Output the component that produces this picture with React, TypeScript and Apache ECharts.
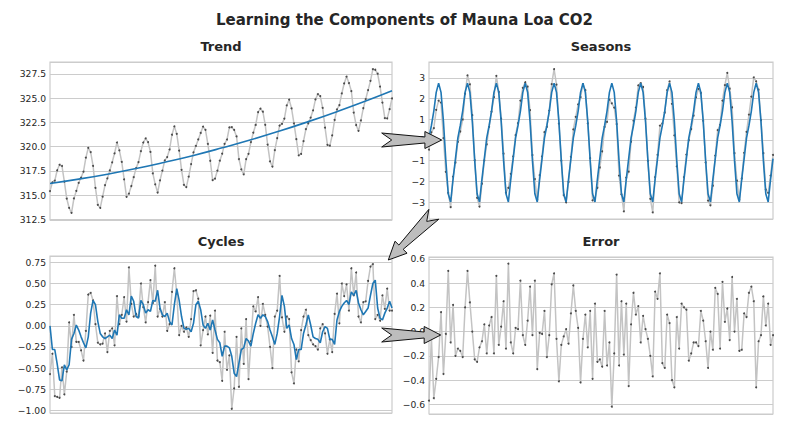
import React, { useEffect, useRef } from "react";
import * as echarts from "echarts";

// Monthly CO2 (ppm), Mauna Loa, Jan 1959 - Dec 1970
const co2Observed = [
  315.42, 316.31, 316.5, 317.56, 318.13, 318.0, 316.39, 314.65, 313.68, 313.18, 314.66, 315.43,
  316.27, 316.81, 317.42, 318.87, 319.87, 319.43, 318.01, 315.74, 314.0, 313.68, 314.84, 316.03,
  316.73, 317.54, 318.38, 319.31, 320.42, 319.61, 318.42, 316.63, 314.83, 315.16, 315.94, 316.85,
  317.78, 318.4, 319.53, 320.42, 320.85, 320.45, 319.45, 317.25, 316.11, 315.27, 316.53, 317.53,
  318.58, 318.92, 319.7, 321.22, 322.08, 321.31, 319.58, 317.61, 316.05, 315.83, 316.91, 318.2,
  319.41, 320.07, 320.74, 321.4, 322.06, 321.73, 320.27, 318.54, 316.54, 316.71, 317.53, 318.55,
  319.27, 320.28, 320.73, 321.97, 322.0, 321.71, 321.05, 318.71, 317.66, 317.14, 318.7, 319.25,
  320.46, 321.43, 322.23, 323.54, 323.91, 323.59, 322.24, 320.2, 318.48, 317.94, 319.63, 320.87,
  322.17, 322.34, 322.88, 324.25, 324.83, 323.93, 322.38, 320.76, 319.1, 319.24, 320.56, 321.8,
  322.4, 322.99, 323.73, 324.86, 325.4, 325.2, 323.98, 321.95, 320.18, 320.09, 321.16, 322.74,
  323.83, 324.26, 325.47, 326.5, 327.21, 326.54, 325.72, 323.5, 322.22, 321.62, 322.69, 323.95,
  324.89, 325.82, 326.77, 327.97, 327.91, 327.5, 326.18, 324.53, 322.93, 322.9, 323.85, 324.96,
];

// Fitted trend (read at a few month indices)
const trendMonths = [0, 12, 24, 36, 48, 60, 72, 84, 96, 108, 120, 132, 143];
const trendFit = [316.2, 316.65, 317.16, 317.74, 318.39, 319.09, 319.87, 320.7, 321.6, 322.57, 323.6, 324.69, 325.75];

// Detrended data (gray, Seasons panel)
const detrended = [
  -0.47, 0.37, 0.57, 1.46, 1.9, 1.81, 0.09, -1.54, -2.56, -3.25, -1.77, -1.09,
  -0.09, 0.41, 0.99, 2.24, 3.12, 2.69, 1.2, -0.98, -2.8, -3.22, -2.11, -0.99,
  -0.21, 0.64, 1.37, 2.07, 3.1, 2.32, 1.03, -0.66, -2.55, -2.31, -1.64, -0.79,
  0.24, 0.81, 1.9, 2.52, 2.79, 2.58, 1.44, -0.73, -1.89, -2.89, -1.7, -0.79,
  0.38, 0.64, 1.42, 2.7, 3.43, 2.68, 0.79, -1.0, -2.67, -3.02, -2.03, -0.82,
  0.51, 1.12, 1.72, 2.07, 2.7, 2.41, 0.8, -0.88, -2.92, -2.82, -2.31, -1.33,
  -0.55, 0.63, 0.88, 1.95, 1.77, 1.56, 0.77, -1.72, -2.63, -3.45, -1.82, -1.53,
  -0.08, 0.93, 1.57, 2.64, 2.75, 2.56, 1.03, -1.01, -2.85, -3.5, -1.79, -0.72,
  0.69, 0.8, 1.33, 2.41, 2.83, 1.75, 0.22, -1.28, -3.02, -3.05, -1.79, -0.71,
  -0.01, 0.53, 1.18, 2.06, 2.47, 2.27, 0.92, -1.09, -2.93, -3.16, -2.21, -0.76,
  0.48, 0.73, 1.9, 2.65, 3.24, 2.48, 1.58, -0.64, -1.97, -2.89, -1.86, -0.62,
  0.39, 1.23, 2.1, 3.03, 2.83, 2.43, 0.96, -0.64, -2.4, -2.56, -1.72, -0.72,
];

// Seasonal fit (blue, Seasons panel)
const seasonFit = [
  0.1, 0.7, 1.4, 2.3, 2.75, 2.3, 0.9, -1.0, -2.6, -3.0, -1.9, -0.9,
  0.1, 0.7, 1.4, 2.3, 2.75, 2.3, 0.9, -1.0, -2.6, -3.0, -1.9, -0.9,
  0.1, 0.7, 1.4, 2.3, 2.75, 2.3, 0.9, -1.0, -2.6, -3.0, -1.9, -0.9,
  0.1, 0.7, 1.4, 2.3, 2.75, 2.3, 0.9, -1.0, -2.6, -3.0, -1.9, -0.9,
  0.1, 0.7, 1.4, 2.3, 2.75, 2.3, 0.9, -1.0, -2.6, -3.0, -1.9, -0.9,
  0.1, 0.7, 1.4, 2.3, 2.75, 2.3, 0.9, -1.0, -2.6, -3.0, -1.9, -0.9,
  0.1, 0.7, 1.4, 2.3, 2.75, 2.3, 0.9, -1.0, -2.6, -3.0, -1.9, -0.9,
  0.1, 0.7, 1.4, 2.3, 2.75, 2.3, 0.9, -1.0, -2.6, -3.0, -1.9, -0.9,
  0.1, 0.7, 1.4, 2.3, 2.75, 2.3, 0.9, -1.0, -2.6, -3.0, -1.9, -0.9,
  0.1, 0.7, 1.4, 2.3, 2.75, 2.3, 0.9, -1.0, -2.6, -3.0, -1.9, -0.9,
  0.1, 0.7, 1.4, 2.3, 2.75, 2.3, 0.9, -1.0, -2.6, -3.0, -1.9, -0.9,
  0.1, 0.7, 1.4, 2.3, 2.75, 2.3, 0.9, -1.0, -2.6, -3.0, -1.9, -0.9,
];

// Deseasonalised residual (gray, Cycles panel)
const cycleData = [
  -0.57, -0.33, -0.83, -0.84, -0.85, -0.49, -0.81, -0.54, 0.04, -0.25, 0.13, -0.19,
  -0.19, -0.29, -0.41, -0.06, 0.37, 0.39, 0.3, 0.02, -0.2, -0.22, -0.21, -0.09,
  -0.31, -0.06, -0.03, -0.23, 0.35, 0.02, 0.13, 0.34, 0.05, 0.69, 0.26, 0.11,
  0.14, 0.11, 0.5, 0.22, 0.04, 0.28, 0.54, 0.27, 0.71, 0.11, 0.2, 0.11,
  0.28, -0.06, 0.02, 0.4, 0.68, 0.38, -0.11, 0.0, -0.07, -0.02, -0.13, 0.08,
  0.41, 0.42, 0.32, -0.23, -0.05, 0.11, -0.1, 0.12, -0.32, 0.18, -0.41, -0.43,
  -0.65, -0.07, -0.52, -0.35, -0.98, -0.74, -0.13, -0.72, -0.03, -0.45, 0.08, -0.63,
  -0.18, 0.23, 0.17, 0.34, 0.0, 0.26, 0.13, -0.01, -0.25, -0.5, 0.11, 0.18,
  0.59, 0.1, -0.07, 0.11, 0.08, -0.55, -0.68, -0.28, -0.42, -0.05, 0.11, 0.19,
  -0.11, -0.17, -0.22, -0.24, -0.28, -0.03, 0.02, -0.09, -0.33, -0.16, -0.31, 0.14,
  0.38, 0.03, 0.5, 0.35, 0.49, 0.18, 0.68, 0.36, 0.63, 0.11, 0.04, 0.28,
  0.29, 0.53, 0.7, 0.73, 0.08, 0.13, 0.06, 0.36, 0.2, 0.44, 0.18, 0.18,
];

// Cycle fit (blue, Cycles panel)
const cycleFit = [
  0.0, -0.28, -0.28, -0.45, -0.64, -0.65, -0.46, -0.52, -0.46, -0.16, -0.09, 0.01,
  -0.05, -0.13, -0.2, -0.26, -0.13, 0.15, 0.3, 0.25, 0.05, -0.09, -0.13, -0.15,
  -0.13, -0.11, -0.15, -0.05, -0.11, 0.13, 0.09, 0.09, 0.19, 0.13, 0.35, 0.29,
  0.11, 0.09, 0.3, 0.25, 0.15, 0.19, 0.17, 0.3, 0.29, 0.42, 0.21, 0.13,
  0.11, 0.15, 0.05, 0.01, 0.25, 0.44, 0.3, 0.11, -0.03, -0.04, -0.03, -0.07,
  0.03, 0.25, 0.29, 0.19, 0.01, -0.03, 0.03, -0.05, 0.07, -0.05, -0.16, -0.2,
  -0.36, -0.24, -0.24, -0.26, -0.36, -0.56, -0.6, -0.44, -0.28, -0.26, -0.15, -0.18,
  -0.24, -0.09, 0.03, 0.13, 0.09, 0.13, 0.11, 0.05, -0.05, -0.13, -0.22, -0.09,
  0.11, 0.36, 0.23, -0.03, 0.01, -0.15, -0.22, -0.4, -0.28, -0.28, -0.09, 0.01,
  0.13, 0.01, -0.13, -0.15, -0.16, -0.2, -0.07, -0.01, -0.03, -0.16, -0.16, -0.22,
  0.07, 0.17, 0.23, 0.27, 0.3, 0.25, 0.4, 0.36, 0.42, 0.27, 0.19, 0.13,
  0.17, 0.21, 0.36, 0.5, 0.54, 0.21, 0.09, 0.07, 0.15, 0.21, 0.29, 0.21,
];

// Remaining error (gray, Error panel)
const errorData = [
  -0.57, -0.05, -0.55, -0.39, -0.21, 0.16, -0.35, -0.02, 0.5, -0.09, 0.22, -0.2,
  -0.14, -0.16, -0.21, 0.2, 0.5, 0.24, 0.0, -0.23, -0.25, -0.13, -0.08, 0.06,
  -0.18, 0.05, 0.12, -0.18, 0.46, -0.11, 0.04, 0.25, -0.14, 0.56, -0.09, -0.18,
  0.03, 0.02, 0.42, -0.03, -0.11, 0.09, 0.37, -0.03, 0.42, -0.31, -0.01, -0.02,
  0.17, -0.21, -0.03, 0.39, 0.48, -0.06, -0.41, -0.11, -0.04, 0.02, -0.1, 0.15,
  0.38, 0.17, 0.03, -0.42, -0.06, 0.14, -0.13, 0.17, -0.39, 0.23, -0.25, -0.23,
  -0.29, 0.17, -0.28, -0.09, -0.62, -0.18, 0.47, -0.28, 0.25, -0.19, 0.23, -0.45,
  0.06, 0.32, 0.14, 0.21, -0.09, 0.13, 0.02, -0.06, -0.2, -0.37, 0.33, 0.27,
  0.48, -0.26, -0.3, 0.14, 0.07, -0.4, -0.46, 0.12, -0.14, 0.23, 0.2, 0.18,
  -0.24, -0.18, -0.09, -0.09, -0.12, 0.17, 0.09, -0.08, -0.3, 0.0, -0.15, 0.36,
  0.31, -0.14, 0.41, 0.08, 0.19, -0.07, 0.45, 0.0, 0.27, -0.16, -0.15, 0.15,
  0.12, 0.32, 0.37, 0.25, -0.46, -0.08, -0.03, 0.29, 0.05, 0.23, -0.11, -0.03,
];

const panelTitles = ["Trend", "Seasons", "Cycles", "Error"];
const mainTitle = "Learning the Components of Mauna Loa CO2";

const FONT = "DejaVu Sans";
const TXT = "#262626";
const GRIDC = "#cccccc";
const GRAY = "#c3c3c3";
const DOT = "#4a4a4a";
const BLUE = "#1f77b4";

const fmt = (v: number, d: number) => (v < -1e-9 ? "\u2212" : "") + Math.abs(v).toFixed(d);
const pairs = (arr: number[]) => arr.map((v, i) => [i, v]);

const grids = [
  { left: 50, top: 62, width: 342, height: 158 },
  { left: 429, top: 62, width: 344, height: 157 },
  { left: 50, top: 256, width: 342, height: 157 },
  { left: 429, top: 257, width: 344, height: 157 },
];

function yAxis(gridIndex: number, min: number, max: number, step: number, dec: number) {
  return {
    type: "value",
    gridIndex,
    min,
    max,
    minInterval: step,
    maxInterval: step,
    splitNumber: 8,
    axisLine: { show: false },
    axisTick: { show: false },
    axisLabel: {
      showMinLabel: false,
      showMaxLabel: false,
      formatter: (v: number) => fmt(v, dec),
      color: TXT,
      fontFamily: FONT,
      fontSize: 9.2,
      margin: 4,
    },
    splitLine: { show: true, lineStyle: { color: GRIDC, width: 1 } },
  };
}

function xAxis(gridIndex: number) {
  return { type: "value", gridIndex, min: 0, max: 143, show: false };
}

function grayLine(idx: number, arr: number[]) {
  return {
    type: "line",
    xAxisIndex: idx,
    yAxisIndex: idx,
    data: pairs(arr),
    lineStyle: { color: GRAY, width: 1.5 },
    symbol: "circle",
    symbolSize: 2,
    showSymbol: true,
    itemStyle: { color: DOT, borderWidth: 0 },
    silent: true,
    z: 2,
  };
}

function blueLine(idx: number, data: number[][], smooth = false) {
  return {
    type: "line",
    xAxisIndex: idx,
    yAxisIndex: idx,
    data,
    smooth,
    lineStyle: { color: BLUE, width: 1.6 },
    symbol: "none",
    silent: true,
    z: 3,
  };
}

const arrowStyle = { fill: "#bdbdbd", stroke: "#111", lineWidth: 1 };

function hArrow(x0: number, x1: number, y: number) {
  const L = x1 - x0;
  const hb = x0 + L * 0.72;
  return {
    type: "polygon",
    z: 100,
    shape: {
      points: [
        [x0, y - 7],
        [hb, y - 3],
        [hb, y - 8.5],
        [x1, y],
        [hb, y + 8.5],
        [hb, y + 3],
        [x0, y + 7],
        [x0 + 10, y],
      ],
    },
    style: arrowStyle,
  };
}

function dArrow(tx: number, ty: number, hx: number, hy: number) {
  const dx = hx - tx;
  const dy = hy - ty;
  const L = Math.sqrt(dx * dx + dy * dy);
  const ux = dx / L, uy = dy / L;
  const nx = -uy, ny = ux;
  const P = (a: number, b: number) => [tx + a * ux + b * nx, ty + a * uy + b * ny];
  const hb = L * 0.72;
  return {
    type: "polygon",
    z: 100,
    shape: {
      points: [P(0, -7), P(hb, -3), P(hb, -8.5), P(L, 0), P(hb, 8.5), P(hb, 3), P(0, 7), P(10, 0)],
    },
    style: arrowStyle,
  };
}

const subTitle = (text: string, cx: number, top: number) => ({
  text,
  left: cx,
  top,
  textAlign: "center",
  padding: 0,
  textStyle: { fontFamily: FONT, fontWeight: "bold", fontSize: 13, color: TXT },
});

export default function App() {
  const ref = useRef<HTMLDivElement>(null);
  useEffect(() => {
    if (!ref.current) return;
    const chart = echarts.init(ref.current, undefined, { renderer: "svg" });
    const option: any = {
      animation: false,
      backgroundColor: "#ffffff",
      title: [
        {
          text: mainTitle,
          left: 404.5,
          top: 12,
          textAlign: "center",
          padding: 0,
          textStyle: { fontFamily: FONT, fontWeight: "bold", fontSize: 15, color: TXT },
        },
        subTitle(panelTitles[0], 221, 40),
        subTitle(panelTitles[1], 601, 40),
        subTitle(panelTitles[2], 221, 235),
        subTitle(panelTitles[3], 601, 235),
      ],
      grid: grids.map((g) => ({ ...g, show: true, borderColor: GRIDC, borderWidth: 1.2, backgroundColor: "#fff" })),
      xAxis: [xAxis(0), xAxis(1), xAxis(2), xAxis(3)],
      yAxis: [
        yAxis(0, 312.44, 328.71, 2.5, 1),
        yAxis(1, -3.82, 3.77, 1, 0),
        yAxis(2, -1.03, 0.825, 0.25, 2),
        yAxis(3, -0.68, 0.615, 0.2, 1),
      ],
      series: [
        grayLine(0, co2Observed),
        blueLine(0, trendMonths.map((m, i) => [m, trendFit[i]]), true),
        grayLine(1, detrended),
        blueLine(1, pairs(seasonFit)),
        grayLine(2, cycleData),
        blueLine(2, pairs(cycleFit)),
        grayLine(3, errorData),
      ],
      graphic: [
        hArrow(381.7, 441.7, 140),
        dArrow(433.8, 214.3, 388.3, 260),
        hArrow(381.7, 440.7, 335),
      ],
    };
    chart.setOption(option);
    return () => chart.dispose();
  }, []);
  return (
    <div
      ref={ref}
      style={{ position: "fixed", left: 0, top: 0, width: 809, height: 427, background: "#fff" }}
    />
  );
}
